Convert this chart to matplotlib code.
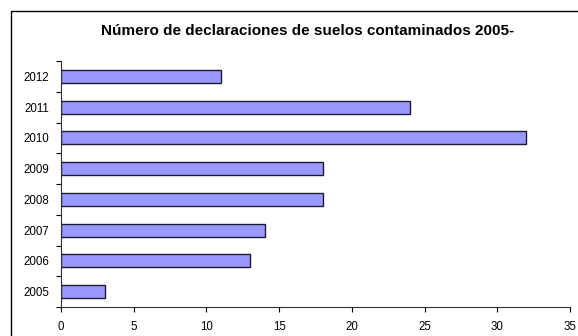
import matplotlib
matplotlib.use("Agg")
import matplotlib.pyplot as plt
from matplotlib.patches import Rectangle

years = ["2005", "2006", "2007", "2008", "2009", "2010", "2011", "2012"]
counts = [3, 13, 14, 18, 18, 32, 24, 11]
xticks = [0, 5, 10, 15, 20, 25, 30, 35]
title = "Número de declaraciones de suelos contaminados 2005-"

plt.rcParams['font.family'] = ['Liberation Sans', 'DejaVu Sans']

W, H = 578, 336
fig = plt.figure(figsize=(W / 100, H / 100), dpi=100)
fig.patch.set_facecolor('white')

# chart area border (extends past right/bottom edges)
fig.patches.append(Rectangle((11 / W, -0.1), 1.2, 1 - 11 / H + 0.1, transform=fig.transFigure,
                             fill=False, edgecolor='black', linewidth=1.0))

ax = fig.add_axes([61 / W, 1 - 307 / H, (570 - 61) / W, (307 - 61) / H])
pos = list(range(len(years)))
ax.barh(pos, counts, height=0.42, color='#9999FF', edgecolor='#1a1a33', linewidth=1.0)

ax.set_xlim(0, 35)
ax.set_ylim(-0.5, len(years) - 0.5)
ax.set_xticks(xticks)
ax.set_xticklabels([str(v) for v in xticks], fontsize=8.3)
ax.set_yticks(pos)
ax.set_yticklabels(years, fontsize=8.3)
ax.set_yticks([p - 0.5 for p in pos] + [len(years) - 0.5], minor=True)
ax.tick_params(axis='y', which='major', length=0, pad=8.5)
ax.tick_params(axis='y', which='minor', length=3.5, width=0.8, direction='out')
ax.tick_params(axis='x', which='major', length=3.5, width=0.8, direction='out', pad=6.5)
for s in ['top', 'right']:
    ax.spines[s].set_visible(False)
for s in ['left', 'bottom']:
    ax.spines[s].set_linewidth(0.8)
    ax.spines[s].set_color('#333333')

fig.text(308 / W, 1 - 31 / H, title, ha='center', va='center', fontsize=11, fontweight='bold')

fig.savefig('out.png', dpi=100)
